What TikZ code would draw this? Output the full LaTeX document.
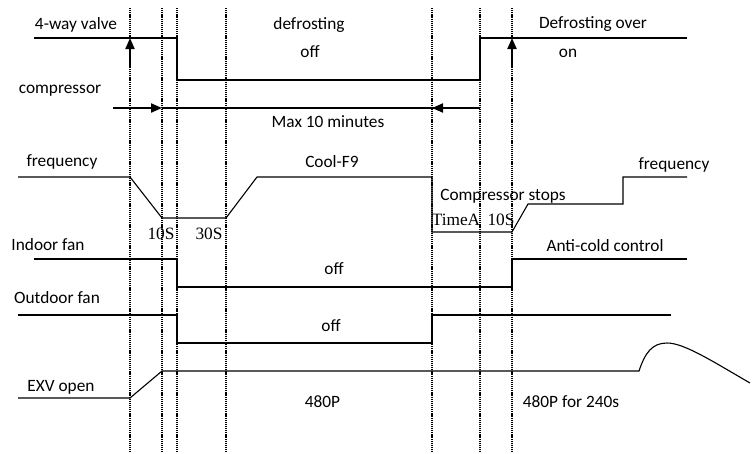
\documentclass[tikz,border=0pt]{standalone}
\usepackage{fontspec}
\setmainfont{Carlito}
\newfontfamily\tnr{Liberation Serif}
\usetikzlibrary{arrows.meta}
\begin{document}
\begin{tikzpicture}[x=1pt,y=-1pt,
  sig/.style={line width=1.1pt,black},
  guide/.style={line width=2.2pt,dash pattern=on 1.2pt off 0.9pt,black},
  bigarrow/.style={line width=2pt,-{Triangle[length=11pt,width=9pt]}},
  lab/.style={inner sep=0pt,font=\fontsize{17.3}{20}\selectfont},
  slab/.style={inner sep=0pt,font=\tnr\fontsize{17.3}{20}\selectfont}]
\useasboundingbox (0,0) rectangle (755,453);
% vertical guides
\foreach \x/\n in {130/a,162/b,177/c,226/d,432/e,480/f,512/g}{
  \draw[guide] (\x,8) -- (\x,453);
}
% 4-way valve
\draw[sig] (34,38) -- (177,38) -- (177,80) -- (480,80) -- (480,38) -- (687,38);
\coordinate (v1s) at (130,68); \coordinate (v1e) at (130,38);
\coordinate (v2s) at (512,68); \coordinate (v2e) at (512,38);
\draw[bigarrow] (v1s) -- (v1e);
\draw[bigarrow] (v2s) -- (v2e);
% compressor
\draw[sig] (162,108) -- (480,108);
\coordinate (c1s) at (113,108); \coordinate (c1e) at (162,108);
\coordinate (c2s) at (480,108); \coordinate (c2e) at (432,108);
\draw[bigarrow] (c1s) -- (c1e);
\draw[bigarrow] (c2s) -- (c2e);
% frequency
\draw[sig] (18,177) -- (130,177) -- (162,218) -- (226,218) -- (257,177) -- (432,177)
  -- (432,232) -- (512,232) -- (528,204) -- (623,204) -- (623,177) -- (687,177);
% indoor fan
\draw[sig] (34,259) -- (177,259) -- (177,287) -- (512,287) -- (512,259) -- (687,259);
% outdoor fan
\draw[sig] (18,315) -- (177,315) -- (177,343) -- (432,343) -- (432,315) -- (671,315);
% EXV
\draw[sig] (18,398) -- (130,398) -- (162,371) -- (639,371)
  .. controls (645,353) and (652,343) .. (667,343)
  .. controls (684,343) and (712,361) .. (750,383);
% labels
\node[lab] (t1) at (76,24.5) {4-way valve};
\node[lab] (t2) at (309,24.5) {defrosting};
\node[lab] (t3) at (310,52) {off};
\node[lab] (t4) at (593,24.5) {Defrosting over};
\node[lab] (t5) at (568,53) {on};
\node[lab] (t6) at (60,91) {compressor};
\node[lab] (t7) at (328,122) {Max 10 minutes};
\node[lab] (t8) at (62,161.5) {frequency};
\node[slab] (t9) at (161,234) {10S};
\node[slab] (t10) at (209,234) {30S};
\node[lab] (t11) at (332,162) {Cool-F9};
\node[lab] (t12) at (503,196) {Compressor stops};
\node[slab] (t13) at (456,220) {TimeA};
\node[slab] (t14) at (501,220) {10S};
\node[lab] (t15) at (674,165) {frequency};
\node[lab] (t16) at (48,245) {Indoor fan};
\node[lab] (t17) at (334,269) {off};
\node[lab] (t18) at (605,246) {Anti-cold control};
\node[lab] (t19) at (57,298) {Outdoor fan};
\node[lab] (t20) at (331,326) {off};
\node[lab] (t21) at (61,387.5) {EXV open};
\node[lab] (t22) at (322.5,401.5) {480P};
\node[lab] (t23) at (571,401.5) {480P for 240s};
\end{tikzpicture}
\end{document}
